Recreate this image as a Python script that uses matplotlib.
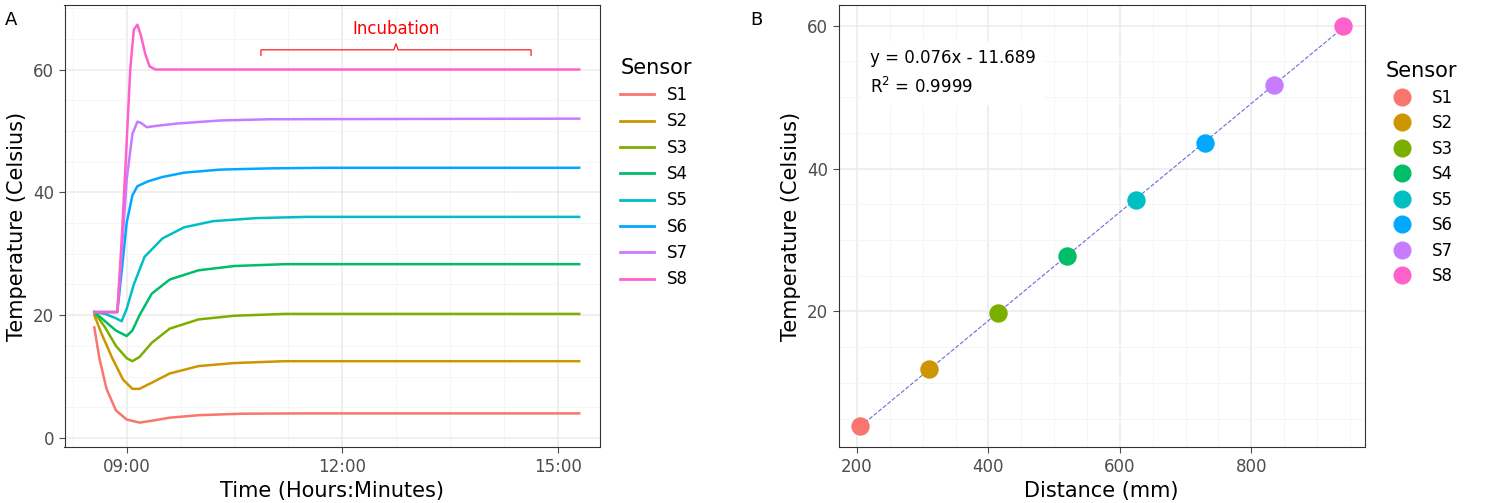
import matplotlib.pyplot as plt
from matplotlib.lines import Line2D

sensors = ['S1', 'S2', 'S3', 'S4', 'S5', 'S6', 'S7', 'S8']
colors = ['#F8766D', '#CD9600', '#7CAE00', '#00BE67', '#00BFC4', '#00A9FF', '#C77CFF', '#FF61CC']

# time (hours) / temperature keypoints
s1_t = [8.55, 8.62, 8.72, 8.85, 9.0, 9.18, 9.35, 9.6, 10.0, 10.6, 11.5, 15.3]
s1_y = [18, 13, 8, 4.5, 3.0, 2.5, 2.8, 3.3, 3.7, 3.95, 4.0, 4.0]
s2_t = [8.55, 8.65, 8.8, 8.95, 9.08, 9.18, 9.35, 9.6, 10.0, 10.5, 11.2, 15.3]
s2_y = [20, 17, 13, 9.5, 8.0, 8.0, 9.0, 10.5, 11.7, 12.2, 12.5, 12.5]
s3_t = [8.55, 8.7, 8.85, 9.0, 9.08, 9.18, 9.35, 9.6, 10.0, 10.5, 11.2, 15.3]
s3_y = [20.5, 18, 15, 13, 12.5, 13.2, 15.5, 17.8, 19.3, 19.9, 20.2, 20.2]
s4_t = [8.55, 8.7, 8.85, 9.0, 9.08, 9.18, 9.35, 9.6, 10.0, 10.5, 11.2, 15.3]
s4_y = [20.5, 19, 17.5, 16.6, 17.5, 20, 23.5, 25.8, 27.3, 28, 28.3, 28.3]
s5_t = [8.55, 8.7, 8.85, 8.93, 9.0, 9.1, 9.25, 9.5, 9.8, 10.2, 10.8, 11.5, 15.3]
s5_y = [20.5, 20.2, 19.5, 19, 21, 25, 29.5, 32.5, 34.3, 35.3, 35.8, 36, 36]
s6_t = [8.55, 8.87, 8.93, 9.0, 9.08, 9.15, 9.3, 9.5, 9.8, 10.3, 11.0, 11.8, 15.3]
s6_y = [20.5, 20.5, 27, 35, 39.5, 41, 41.8, 42.5, 43.2, 43.7, 43.9, 44, 44]
s7_t = [8.55, 8.87, 8.93, 9.0, 9.08, 9.15, 9.2, 9.28, 9.4, 9.7, 10.3, 11.0, 15.3]
s7_y = [20.5, 20.5, 30, 42, 49.5, 51.5, 51.3, 50.6, 50.8, 51.2, 51.7, 51.9, 52]
s8_t = [8.55, 8.87, 8.93, 9.0, 9.05, 9.1, 9.15, 9.2, 9.26, 9.32, 9.4, 15.3]
s8_y = [20.5, 20.5, 32, 48, 60, 66.5, 67.3, 65.5, 62.5, 60.5, 60, 60]
times = [s1_t, s2_t, s3_t, s4_t, s5_t, s6_t, s7_t, s8_t]
temps = [s1_y, s2_y, s3_y, s4_y, s5_y, s6_y, s7_y, s8_y]

# panel B
distance = [205, 310, 415, 520, 625, 730, 835, 940]
sensor_temp = [3.9, 11.9, 19.8, 27.7, 35.6, 43.6, 51.7, 60.0]
slope, intercept = 0.076, -11.689

fig = plt.figure(figsize=(15, 5.03), dpi=100)
axA = fig.add_axes([0.043, 0.111, 0.357, 0.879])
axB = fig.add_axes([0.559, 0.111, 0.351, 0.879])

def style(ax):
    ax.set_axisbelow(True)
    ax.minorticks_on()
    ax.grid(True, which='major', color='#ebebeb', lw=1.1)
    ax.grid(True, which='minor', color='#f4f4f4', lw=0.6)
    ax.tick_params(which='minor', length=0)
    ax.tick_params(which='major', labelsize=12, colors='#4d4d4d', length=4)
    for s in ax.spines.values():
        s.set_color('#333333')

for t, y, c in zip(times, temps, colors):
    axA.plot(t, y, color=c, lw=1.8)
axA.set_xlim(8.135, 15.59)
axA.set_ylim(-1.5, 70.5)
axA.set_xticks([9, 12, 15])
axA.set_xticklabels(['09:00', '12:00', '15:00'])
axA.set_yticks([0, 20, 40, 60])
style(axA)
axA.set_xlabel('Time (Hours:Minutes)', fontsize=15)
axA.set_ylabel('Temperature (Celsius)', fontsize=15)
# incubation bracket
bx0, bx1, by = 10.87, 14.63, 62.3
axA.plot([bx0, bx0, 12.72, 12.75, 12.78, bx1, bx1], [by, 63.2, 63.2, 64.2, 63.2, 63.2, by], color='red', lw=0.8)
axA.text(12.75, 65.2, 'Incubation', color='red', ha='center', va='bottom', fontsize=12)
handlesA = [Line2D([], [], color=c, lw=2) for c in colors]
axA.legend(handlesA, sensors, title='Sensor', loc='center left', bbox_to_anchor=(1.01, 0.62),
           frameon=False, fontsize=12, title_fontsize=15, alignment='left', handlelength=2)

xs = [min(distance), max(distance)]
axB.plot(xs, [slope * x + intercept for x in xs], color='#6b6bd6', lw=0.8, ls='--')
for d, y, c in zip(distance, sensor_temp, colors):
    axB.scatter(d, y, s=150, color=c, zorder=3)
axB.set_xlim(172, 973)
axB.set_ylim(1, 62.9)
axB.set_xticks([200, 400, 600, 800])
axB.set_yticks([20, 40, 60])
style(axB)
axB.set_xlabel('Distance (mm)', fontsize=15)
axB.set_ylabel('Temperature (Celsius)', fontsize=15)
axB.text(0.06, 0.9, 'y = 0.076x - 11.689\nR$^2$ = 0.9999', transform=axB.transAxes, fontsize=12,
         va='top', linespacing=1.6, bbox=dict(facecolor='white', edgecolor='none', pad=6))
handlesB = [Line2D([], [], marker='o', ls='', color=c, markersize=12) for c in colors]
axB.legend(handlesB, sensors, title='Sensor', loc='center left', bbox_to_anchor=(1.01, 0.62),
           frameon=False, fontsize=12, title_fontsize=15, alignment='left', labelspacing=0.45)

fig.text(0.003, 0.95, 'A', fontsize=13)
fig.text(0.5, 0.95, 'B', fontsize=13)
fig.savefig('out.png', dpi=100)
